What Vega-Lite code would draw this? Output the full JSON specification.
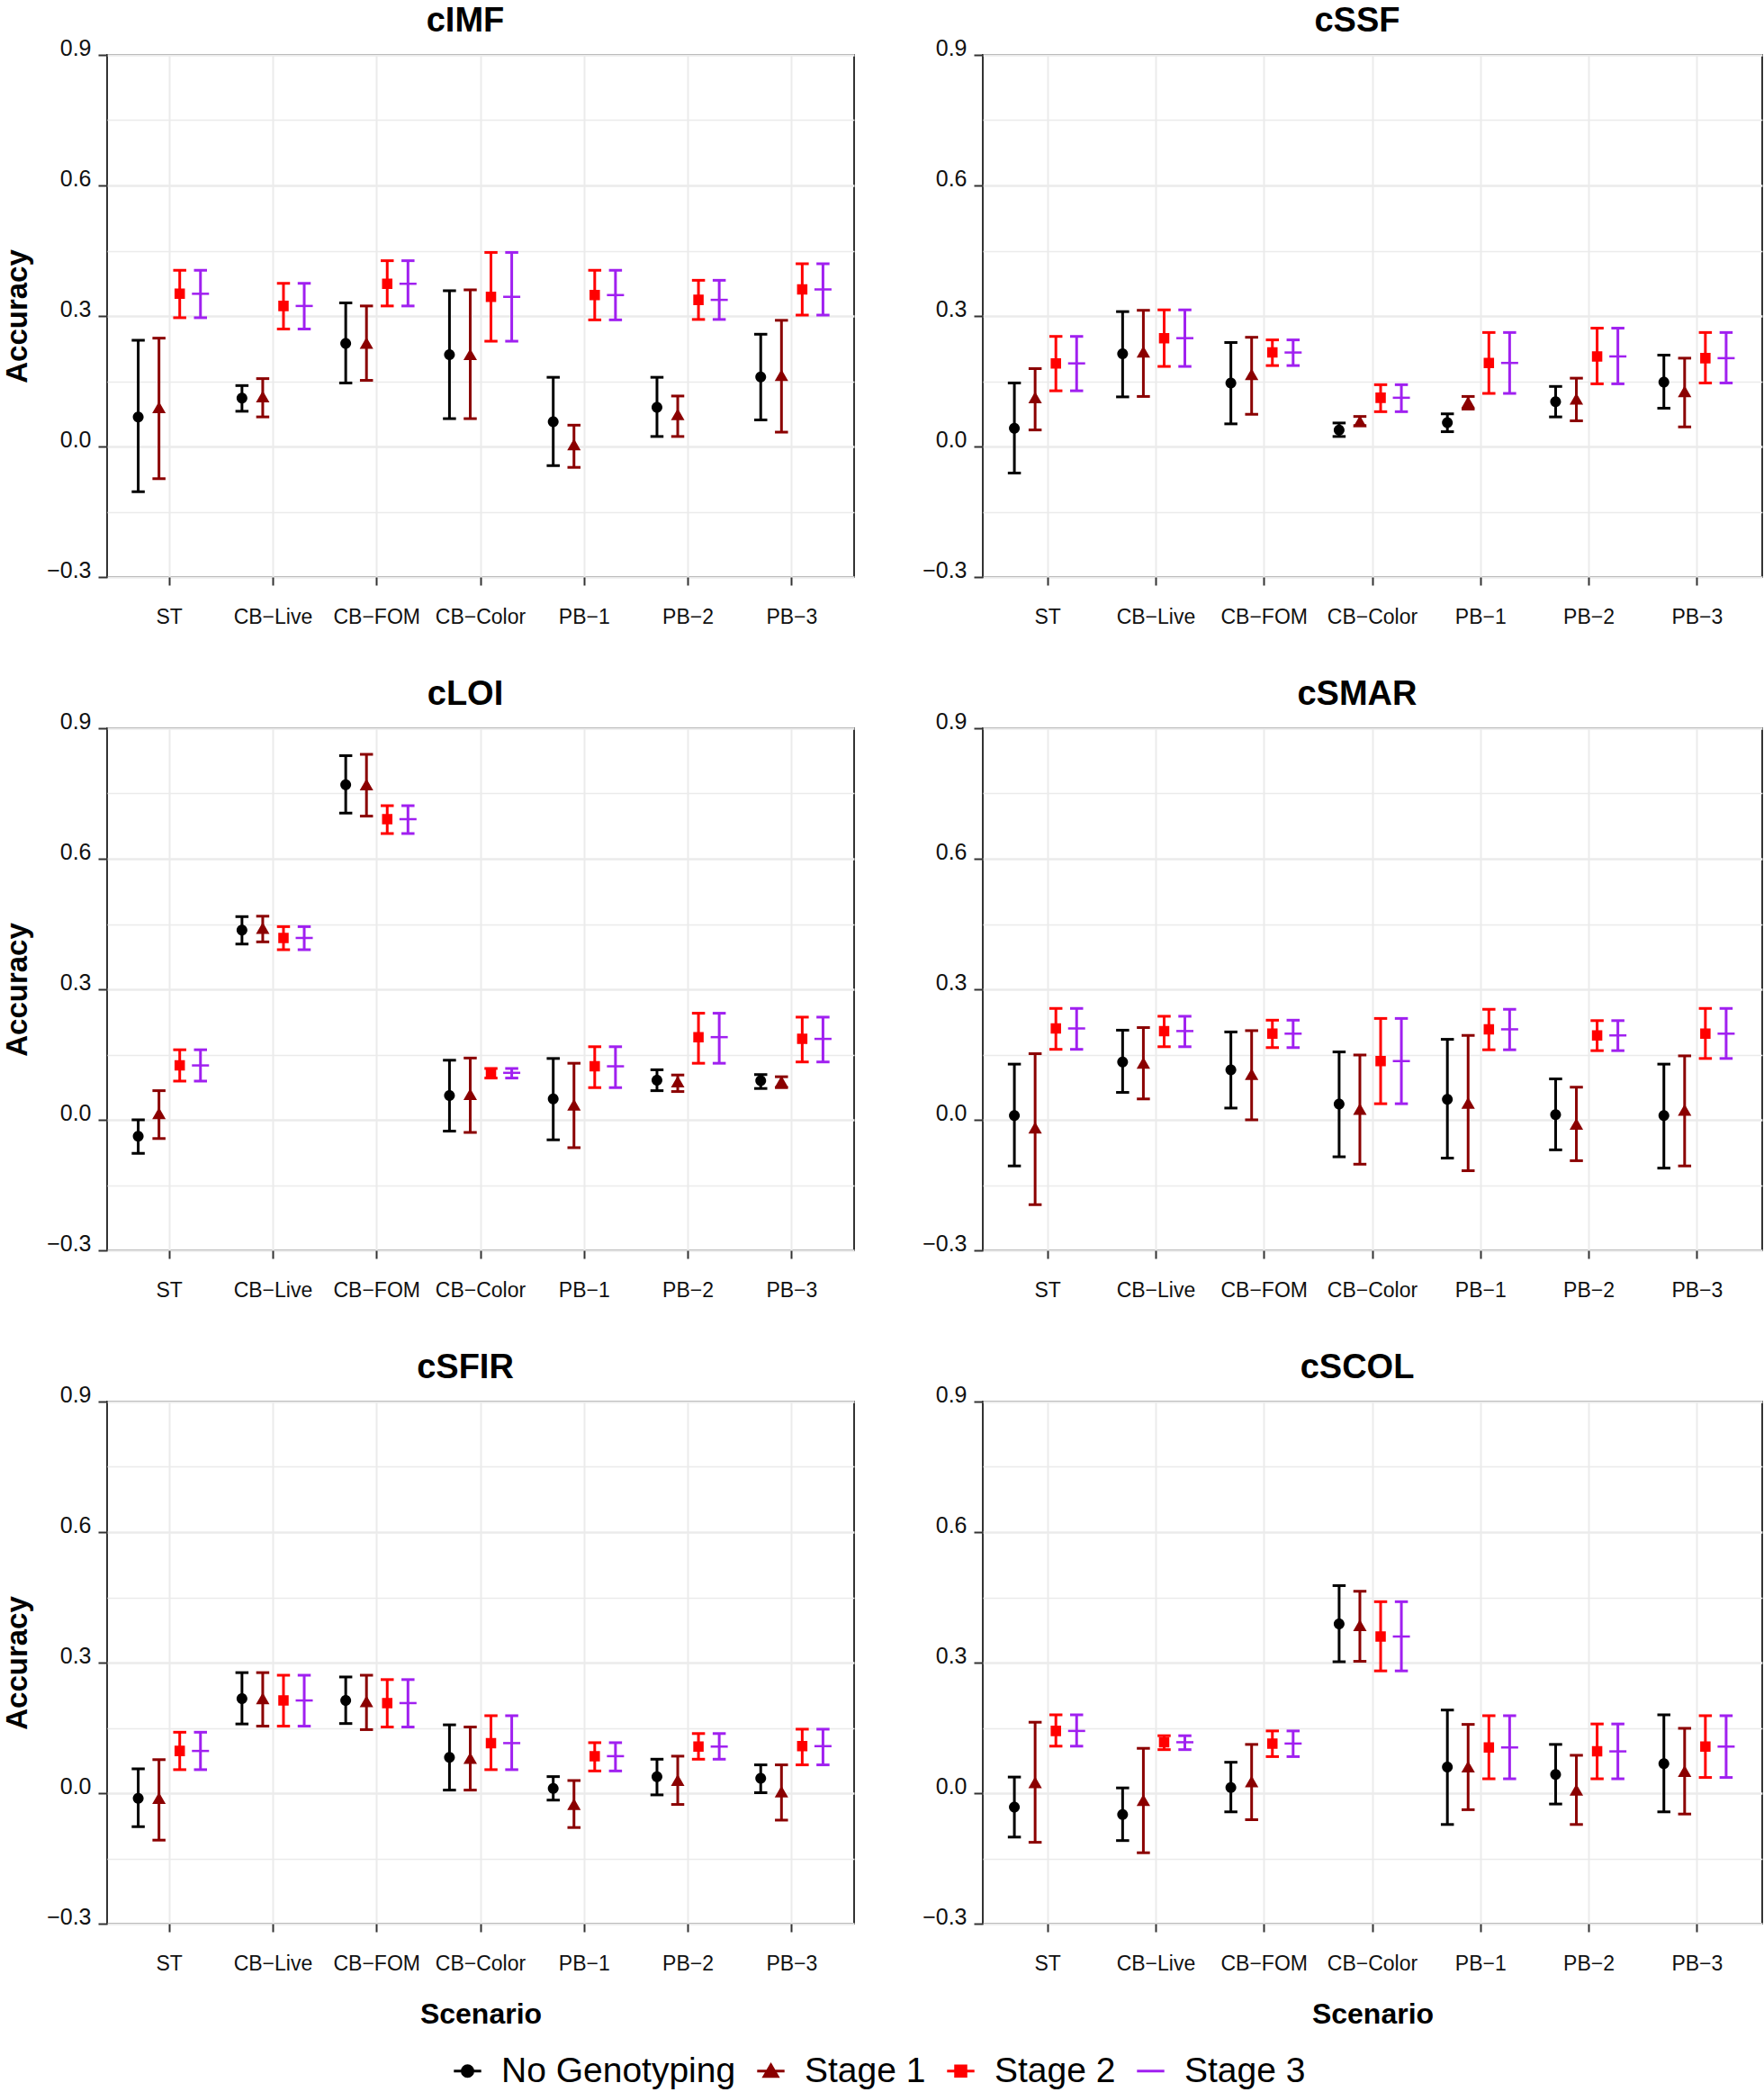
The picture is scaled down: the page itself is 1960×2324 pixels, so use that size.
{
  "$schema": "https://vega.github.io/schema/vega-lite/v6.json",
  "background": "white",
  "padding": {"left": 2, "top": 4, "right": 0, "bottom": 0},
  "columns": 2,
  "align": "each",
  "bounds": "flush",
  "spacing": {"row": 168, "column": 143},
  "resolve": {"scale": {"color": "shared", "shape": "shared"}, "legend": {"color": "shared", "shape": "shared"}},
  "config": {
    "font": "Liberation Sans",
    "view": {"stroke": "#333333", "strokeWidth": 2},
    "axis": {"labelFont": "Liberation Sans", "labelColor": "#111111", "tickColor": "#333333", "tickWidth": 2, "domain": false, "gridColor": "#EBEBEB", "titleFont": "Liberation Sans", "titleFontWeight": "bold", "titleColor": "#000000"},
    "axisX": {"labelFontSize": 23, "titleFontSize": 32},
    "axisY": {"labelFontSize": 25, "titleFontSize": 33},
    "title": {"font": "Liberation Sans", "fontSize": 38, "fontWeight": "bold", "offset": -2, "frame": "group", "anchor": "middle", "color": "#000000"},
    "legend": {"labelFont": "Liberation Sans"}
  },
  "data": {"values": [
    {"t":"cIMF","s":"ST","g":"No Genotyping","m":0.068,"lo":-0.104,"hi":0.244},
    {"t":"cIMF","s":"ST","g":"Stage 1","m":0.089,"lo":-0.074,"hi":0.249},
    {"t":"cIMF","s":"ST","g":"Stage 2","m":0.351,"lo":0.296,"hi":0.405},
    {"t":"cIMF","s":"ST","g":"Stage 3","m":0.351,"lo":0.296,"hi":0.405},
    {"t":"cIMF","s":"CB−Live","g":"No Genotyping","m":0.111,"lo":0.081,"hi":0.140},
    {"t":"cIMF","s":"CB−Live","g":"Stage 1","m":0.114,"lo":0.068,"hi":0.156},
    {"t":"cIMF","s":"CB−Live","g":"Stage 2","m":0.323,"lo":0.270,"hi":0.375},
    {"t":"cIMF","s":"CB−Live","g":"Stage 3","m":0.323,"lo":0.270,"hi":0.375},
    {"t":"cIMF","s":"CB−FOM","g":"No Genotyping","m":0.237,"lo":0.146,"hi":0.330},
    {"t":"cIMF","s":"CB−FOM","g":"Stage 1","m":0.237,"lo":0.152,"hi":0.323},
    {"t":"cIMF","s":"CB−FOM","g":"Stage 2","m":0.374,"lo":0.323,"hi":0.427},
    {"t":"cIMF","s":"CB−FOM","g":"Stage 3","m":0.374,"lo":0.323,"hi":0.427},
    {"t":"cIMF","s":"CB−Color","g":"No Genotyping","m":0.211,"lo":0.064,"hi":0.358},
    {"t":"cIMF","s":"CB−Color","g":"Stage 1","m":0.211,"lo":0.064,"hi":0.360},
    {"t":"cIMF","s":"CB−Color","g":"Stage 2","m":0.344,"lo":0.242,"hi":0.446},
    {"t":"cIMF","s":"CB−Color","g":"Stage 3","m":0.344,"lo":0.242,"hi":0.446},
    {"t":"cIMF","s":"PB−1","g":"No Genotyping","m":0.057,"lo":-0.044,"hi":0.159},
    {"t":"cIMF","s":"PB−1","g":"Stage 1","m":0.004,"lo":-0.048,"hi":0.049},
    {"t":"cIMF","s":"PB−1","g":"Stage 2","m":0.348,"lo":0.291,"hi":0.405},
    {"t":"cIMF","s":"PB−1","g":"Stage 3","m":0.348,"lo":0.291,"hi":0.405},
    {"t":"cIMF","s":"PB−2","g":"No Genotyping","m":0.090,"lo":0.023,"hi":0.159},
    {"t":"cIMF","s":"PB−2","g":"Stage 1","m":0.073,"lo":0.023,"hi":0.116},
    {"t":"cIMF","s":"PB−2","g":"Stage 2","m":0.337,"lo":0.292,"hi":0.382},
    {"t":"cIMF","s":"PB−2","g":"Stage 3","m":0.337,"lo":0.292,"hi":0.382},
    {"t":"cIMF","s":"PB−3","g":"No Genotyping","m":0.160,"lo":0.061,"hi":0.258},
    {"t":"cIMF","s":"PB−3","g":"Stage 1","m":0.163,"lo":0.033,"hi":0.290},
    {"t":"cIMF","s":"PB−3","g":"Stage 2","m":0.361,"lo":0.302,"hi":0.420},
    {"t":"cIMF","s":"PB−3","g":"Stage 3","m":0.361,"lo":0.302,"hi":0.420},

    {"t":"cSSF","s":"ST","g":"No Genotyping","m":0.042,"lo":-0.061,"hi":0.146},
    {"t":"cSSF","s":"ST","g":"Stage 1","m":0.112,"lo":0.038,"hi":0.179},
    {"t":"cSSF","s":"ST","g":"Stage 2","m":0.191,"lo":0.128,"hi":0.253},
    {"t":"cSSF","s":"ST","g":"Stage 3","m":0.191,"lo":0.128,"hi":0.253},
    {"t":"cSSF","s":"CB−Live","g":"No Genotyping","m":0.213,"lo":0.114,"hi":0.310},
    {"t":"cSSF","s":"CB−Live","g":"Stage 1","m":0.217,"lo":0.115,"hi":0.313},
    {"t":"cSSF","s":"CB−Live","g":"Stage 2","m":0.249,"lo":0.184,"hi":0.314},
    {"t":"cSSF","s":"CB−Live","g":"Stage 3","m":0.249,"lo":0.184,"hi":0.314},
    {"t":"cSSF","s":"CB−FOM","g":"No Genotyping","m":0.146,"lo":0.052,"hi":0.239},
    {"t":"cSSF","s":"CB−FOM","g":"Stage 1","m":0.165,"lo":0.074,"hi":0.251},
    {"t":"cSSF","s":"CB−FOM","g":"Stage 2","m":0.216,"lo":0.186,"hi":0.245},
    {"t":"cSSF","s":"CB−FOM","g":"Stage 3","m":0.216,"lo":0.186,"hi":0.245},
    {"t":"cSSF","s":"CB−Color","g":"No Genotyping","m":0.038,"lo":0.023,"hi":0.054},
    {"t":"cSSF","s":"CB−Color","g":"Stage 1","m":0.057,"lo":0.048,"hi":0.069},
    {"t":"cSSF","s":"CB−Color","g":"Stage 2","m":0.112,"lo":0.080,"hi":0.142},
    {"t":"cSSF","s":"CB−Color","g":"Stage 3","m":0.112,"lo":0.080,"hi":0.142},
    {"t":"cSSF","s":"PB−1","g":"No Genotyping","m":0.055,"lo":0.034,"hi":0.075},
    {"t":"cSSF","s":"PB−1","g":"Stage 1","m":0.101,"lo":0.086,"hi":0.115},
    {"t":"cSSF","s":"PB−1","g":"Stage 2","m":0.192,"lo":0.122,"hi":0.262},
    {"t":"cSSF","s":"PB−1","g":"Stage 3","m":0.192,"lo":0.122,"hi":0.262},
    {"t":"cSSF","s":"PB−2","g":"No Genotyping","m":0.103,"lo":0.068,"hi":0.138},
    {"t":"cSSF","s":"PB−2","g":"Stage 1","m":0.109,"lo":0.059,"hi":0.157},
    {"t":"cSSF","s":"PB−2","g":"Stage 2","m":0.207,"lo":0.144,"hi":0.272},
    {"t":"cSSF","s":"PB−2","g":"Stage 3","m":0.207,"lo":0.144,"hi":0.272},
    {"t":"cSSF","s":"PB−3","g":"No Genotyping","m":0.148,"lo":0.088,"hi":0.210},
    {"t":"cSSF","s":"PB−3","g":"Stage 1","m":0.126,"lo":0.045,"hi":0.203},
    {"t":"cSSF","s":"PB−3","g":"Stage 2","m":0.203,"lo":0.146,"hi":0.262},
    {"t":"cSSF","s":"PB−3","g":"Stage 3","m":0.203,"lo":0.146,"hi":0.262},

    {"t":"cLOI","s":"ST","g":"No Genotyping","m":-0.038,"lo":-0.077,"hi":0.000},
    {"t":"cLOI","s":"ST","g":"Stage 1","m":0.014,"lo":-0.043,"hi":0.067},
    {"t":"cLOI","s":"ST","g":"Stage 2","m":0.125,"lo":0.089,"hi":0.161},
    {"t":"cLOI","s":"ST","g":"Stage 3","m":0.125,"lo":0.089,"hi":0.161},
    {"t":"cLOI","s":"CB−Live","g":"No Genotyping","m":0.436,"lo":0.404,"hi":0.467},
    {"t":"cLOI","s":"CB−Live","g":"Stage 1","m":0.440,"lo":0.409,"hi":0.468},
    {"t":"cLOI","s":"CB−Live","g":"Stage 2","m":0.418,"lo":0.391,"hi":0.444},
    {"t":"cLOI","s":"CB−Live","g":"Stage 3","m":0.418,"lo":0.391,"hi":0.444},
    {"t":"cLOI","s":"CB−FOM","g":"No Genotyping","m":0.770,"lo":0.705,"hi":0.837},
    {"t":"cLOI","s":"CB−FOM","g":"Stage 1","m":0.770,"lo":0.698,"hi":0.840},
    {"t":"cLOI","s":"CB−FOM","g":"Stage 2","m":0.691,"lo":0.658,"hi":0.722},
    {"t":"cLOI","s":"CB−FOM","g":"Stage 3","m":0.691,"lo":0.658,"hi":0.722},
    {"t":"cLOI","s":"CB−Color","g":"No Genotyping","m":0.056,"lo":-0.026,"hi":0.137},
    {"t":"cLOI","s":"CB−Color","g":"Stage 1","m":0.058,"lo":-0.029,"hi":0.142},
    {"t":"cLOI","s":"CB−Color","g":"Stage 2","m":0.108,"lo":0.096,"hi":0.118},
    {"t":"cLOI","s":"CB−Color","g":"Stage 3","m":0.108,"lo":0.096,"hi":0.118},
    {"t":"cLOI","s":"PB−1","g":"No Genotyping","m":0.048,"lo":-0.046,"hi":0.141},
    {"t":"cLOI","s":"PB−1","g":"Stage 1","m":0.034,"lo":-0.064,"hi":0.130},
    {"t":"cLOI","s":"PB−1","g":"Stage 2","m":0.123,"lo":0.074,"hi":0.168},
    {"t":"cLOI","s":"PB−1","g":"Stage 3","m":0.123,"lo":0.074,"hi":0.168},
    {"t":"cLOI","s":"PB−2","g":"No Genotyping","m":0.091,"lo":0.067,"hi":0.115},
    {"t":"cLOI","s":"PB−2","g":"Stage 1","m":0.087,"lo":0.065,"hi":0.103},
    {"t":"cLOI","s":"PB−2","g":"Stage 2","m":0.190,"lo":0.130,"hi":0.245},
    {"t":"cLOI","s":"PB−2","g":"Stage 3","m":0.190,"lo":0.130,"hi":0.245},
    {"t":"cLOI","s":"PB−3","g":"No Genotyping","m":0.090,"lo":0.072,"hi":0.104},
    {"t":"cLOI","s":"PB−3","g":"Stage 1","m":0.087,"lo":0.074,"hi":0.099},
    {"t":"cLOI","s":"PB−3","g":"Stage 2","m":0.186,"lo":0.133,"hi":0.236},
    {"t":"cLOI","s":"PB−3","g":"Stage 3","m":0.186,"lo":0.133,"hi":0.236},

    {"t":"cSMAR","s":"ST","g":"No Genotyping","m":0.010,"lo":-0.106,"hi":0.128},
    {"t":"cSMAR","s":"ST","g":"Stage 1","m":-0.019,"lo":-0.195,"hi":0.152},
    {"t":"cSMAR","s":"ST","g":"Stage 2","m":0.210,"lo":0.162,"hi":0.256},
    {"t":"cSMAR","s":"ST","g":"Stage 3","m":0.210,"lo":0.162,"hi":0.256},
    {"t":"cSMAR","s":"CB−Live","g":"No Genotyping","m":0.133,"lo":0.063,"hi":0.206},
    {"t":"cSMAR","s":"CB−Live","g":"Stage 1","m":0.130,"lo":0.048,"hi":0.212},
    {"t":"cSMAR","s":"CB−Live","g":"Stage 2","m":0.204,"lo":0.168,"hi":0.238},
    {"t":"cSMAR","s":"CB−Live","g":"Stage 3","m":0.204,"lo":0.168,"hi":0.238},
    {"t":"cSMAR","s":"CB−FOM","g":"No Genotyping","m":0.115,"lo":0.027,"hi":0.202},
    {"t":"cSMAR","s":"CB−FOM","g":"Stage 1","m":0.104,"lo":0.000,"hi":0.205},
    {"t":"cSMAR","s":"CB−FOM","g":"Stage 2","m":0.198,"lo":0.166,"hi":0.229},
    {"t":"cSMAR","s":"CB−FOM","g":"Stage 3","m":0.198,"lo":0.166,"hi":0.229},
    {"t":"cSMAR","s":"CB−Color","g":"No Genotyping","m":0.036,"lo":-0.085,"hi":0.156},
    {"t":"cSMAR","s":"CB−Color","g":"Stage 1","m":0.024,"lo":-0.102,"hi":0.149},
    {"t":"cSMAR","s":"CB−Color","g":"Stage 2","m":0.135,"lo":0.037,"hi":0.233},
    {"t":"cSMAR","s":"CB−Color","g":"Stage 3","m":0.135,"lo":0.037,"hi":0.233},
    {"t":"cSMAR","s":"PB−1","g":"No Genotyping","m":0.047,"lo":-0.088,"hi":0.185},
    {"t":"cSMAR","s":"PB−1","g":"Stage 1","m":0.038,"lo":-0.117,"hi":0.194},
    {"t":"cSMAR","s":"PB−1","g":"Stage 2","m":0.208,"lo":0.161,"hi":0.254},
    {"t":"cSMAR","s":"PB−1","g":"Stage 3","m":0.208,"lo":0.161,"hi":0.254},
    {"t":"cSMAR","s":"PB−2","g":"No Genotyping","m":0.012,"lo":-0.069,"hi":0.094},
    {"t":"cSMAR","s":"PB−2","g":"Stage 1","m":-0.010,"lo":-0.094,"hi":0.075},
    {"t":"cSMAR","s":"PB−2","g":"Stage 2","m":0.194,"lo":0.159,"hi":0.228},
    {"t":"cSMAR","s":"PB−2","g":"Stage 3","m":0.194,"lo":0.159,"hi":0.228},
    {"t":"cSMAR","s":"PB−3","g":"No Genotyping","m":0.010,"lo":-0.111,"hi":0.128},
    {"t":"cSMAR","s":"PB−3","g":"Stage 1","m":0.022,"lo":-0.106,"hi":0.147},
    {"t":"cSMAR","s":"PB−3","g":"Stage 2","m":0.198,"lo":0.141,"hi":0.256},
    {"t":"cSMAR","s":"PB−3","g":"Stage 3","m":0.198,"lo":0.141,"hi":0.256},

    {"t":"cSFIR","s":"ST","g":"No Genotyping","m":-0.012,"lo":-0.077,"hi":0.056},
    {"t":"cSFIR","s":"ST","g":"Stage 1","m":-0.012,"lo":-0.108,"hi":0.077},
    {"t":"cSFIR","s":"ST","g":"Stage 2","m":0.097,"lo":0.054,"hi":0.140},
    {"t":"cSFIR","s":"ST","g":"Stage 3","m":0.097,"lo":0.054,"hi":0.140},
    {"t":"cSFIR","s":"CB−Live","g":"No Genotyping","m":0.217,"lo":0.159,"hi":0.277},
    {"t":"cSFIR","s":"CB−Live","g":"Stage 1","m":0.217,"lo":0.154,"hi":0.277},
    {"t":"cSFIR","s":"CB−Live","g":"Stage 2","m":0.213,"lo":0.154,"hi":0.271},
    {"t":"cSFIR","s":"CB−Live","g":"Stage 3","m":0.213,"lo":0.154,"hi":0.271},
    {"t":"cSFIR","s":"CB−FOM","g":"No Genotyping","m":0.213,"lo":0.160,"hi":0.267},
    {"t":"cSFIR","s":"CB−FOM","g":"Stage 1","m":0.210,"lo":0.146,"hi":0.271},
    {"t":"cSFIR","s":"CB−FOM","g":"Stage 2","m":0.207,"lo":0.152,"hi":0.261},
    {"t":"cSFIR","s":"CB−FOM","g":"Stage 3","m":0.207,"lo":0.152,"hi":0.261},
    {"t":"cSFIR","s":"CB−Color","g":"No Genotyping","m":0.082,"lo":0.007,"hi":0.157},
    {"t":"cSFIR","s":"CB−Color","g":"Stage 1","m":0.080,"lo":0.007,"hi":0.152},
    {"t":"cSFIR","s":"CB−Color","g":"Stage 2","m":0.115,"lo":0.054,"hi":0.178},
    {"t":"cSFIR","s":"CB−Color","g":"Stage 3","m":0.115,"lo":0.054,"hi":0.178},
    {"t":"cSFIR","s":"PB−1","g":"No Genotyping","m":0.011,"lo":-0.016,"hi":0.038},
    {"t":"cSFIR","s":"PB−1","g":"Stage 1","m":-0.026,"lo":-0.079,"hi":0.029},
    {"t":"cSFIR","s":"PB−1","g":"Stage 2","m":0.085,"lo":0.051,"hi":0.116},
    {"t":"cSFIR","s":"PB−1","g":"Stage 3","m":0.085,"lo":0.051,"hi":0.116},
    {"t":"cSFIR","s":"PB−2","g":"No Genotyping","m":0.038,"lo":-0.004,"hi":0.078},
    {"t":"cSFIR","s":"PB−2","g":"Stage 1","m":0.029,"lo":-0.026,"hi":0.085},
    {"t":"cSFIR","s":"PB−2","g":"Stage 2","m":0.107,"lo":0.078,"hi":0.137},
    {"t":"cSFIR","s":"PB−2","g":"Stage 3","m":0.107,"lo":0.078,"hi":0.137},
    {"t":"cSFIR","s":"PB−3","g":"No Genotyping","m":0.034,"lo":0.001,"hi":0.065},
    {"t":"cSFIR","s":"PB−3","g":"Stage 1","m":0.003,"lo":-0.062,"hi":0.065},
    {"t":"cSFIR","s":"PB−3","g":"Stage 2","m":0.108,"lo":0.065,"hi":0.147},
    {"t":"cSFIR","s":"PB−3","g":"Stage 3","m":0.108,"lo":0.065,"hi":0.147},

    {"t":"cSCOL","s":"ST","g":"No Genotyping","m":-0.032,"lo":-0.101,"hi":0.037},
    {"t":"cSCOL","s":"ST","g":"Stage 1","m":0.024,"lo":-0.113,"hi":0.163},
    {"t":"cSCOL","s":"ST","g":"Stage 2","m":0.143,"lo":0.108,"hi":0.180},
    {"t":"cSCOL","s":"ST","g":"Stage 3","m":0.143,"lo":0.108,"hi":0.180},
    {"t":"cSCOL","s":"CB−Live","g":"No Genotyping","m":-0.049,"lo":-0.109,"hi":0.012},
    {"t":"cSCOL","s":"CB−Live","g":"Stage 1","m":-0.017,"lo":-0.137,"hi":0.103},
    {"t":"cSCOL","s":"CB−Live","g":"Stage 2","m":0.117,"lo":0.100,"hi":0.132},
    {"t":"cSCOL","s":"CB−Live","g":"Stage 3","m":0.117,"lo":0.100,"hi":0.132},
    {"t":"cSCOL","s":"CB−FOM","g":"No Genotyping","m":0.013,"lo":-0.043,"hi":0.071},
    {"t":"cSCOL","s":"CB−FOM","g":"Stage 1","m":0.026,"lo":-0.061,"hi":0.112},
    {"t":"cSCOL","s":"CB−FOM","g":"Stage 2","m":0.114,"lo":0.084,"hi":0.143},
    {"t":"cSCOL","s":"CB−FOM","g":"Stage 3","m":0.114,"lo":0.084,"hi":0.143},
    {"t":"cSCOL","s":"CB−Color","g":"No Genotyping","m":0.389,"lo":0.302,"hi":0.477},
    {"t":"cSCOL","s":"CB−Color","g":"Stage 1","m":0.385,"lo":0.303,"hi":0.464},
    {"t":"cSCOL","s":"CB−Color","g":"Stage 2","m":0.360,"lo":0.281,"hi":0.440},
    {"t":"cSCOL","s":"CB−Color","g":"Stage 3","m":0.360,"lo":0.281,"hi":0.440},
    {"t":"cSCOL","s":"PB−1","g":"No Genotyping","m":0.060,"lo":-0.072,"hi":0.191},
    {"t":"cSCOL","s":"PB−1","g":"Stage 1","m":0.060,"lo":-0.038,"hi":0.158},
    {"t":"cSCOL","s":"PB−1","g":"Stage 2","m":0.105,"lo":0.033,"hi":0.178},
    {"t":"cSCOL","s":"PB−1","g":"Stage 3","m":0.105,"lo":0.033,"hi":0.178},
    {"t":"cSCOL","s":"PB−2","g":"No Genotyping","m":0.043,"lo":-0.025,"hi":0.112},
    {"t":"cSCOL","s":"PB−2","g":"Stage 1","m":0.007,"lo":-0.072,"hi":0.087},
    {"t":"cSCOL","s":"PB−2","g":"Stage 2","m":0.096,"lo":0.033,"hi":0.159},
    {"t":"cSCOL","s":"PB−2","g":"Stage 3","m":0.096,"lo":0.033,"hi":0.159},
    {"t":"cSCOL","s":"PB−3","g":"No Genotyping","m":0.068,"lo":-0.043,"hi":0.180},
    {"t":"cSCOL","s":"PB−3","g":"Stage 1","m":0.050,"lo":-0.048,"hi":0.149},
    {"t":"cSCOL","s":"PB−3","g":"Stage 2","m":0.107,"lo":0.036,"hi":0.178},
    {"t":"cSCOL","s":"PB−3","g":"Stage 3","m":0.107,"lo":0.036,"hi":0.178}
  ]},
  "concat": [
    {
      "width": 830, "height": 580,
      "title": {"text": "cIMF", "dx": -17},
      "transform": [{"filter": "datum.t == 'cIMF'"}],
      "encoding": {
        "x": {"field": "s", "type": "nominal", "sort": ["ST","CB−Live","CB−FOM","CB−Color","PB−1","PB−2","PB−3"], "scale": {"paddingInner": 0, "paddingOuter": 0.1}, "axis": {"title": null, "labelAngle": 0, "tickSize": 9, "labelPadding": 24, "bandPosition": 0.5, "grid": true, "gridWidth": 2}},
        "xOffset": {"field": "g", "type": "nominal", "sort": ["No Genotyping","Stage 1","Stage 2","Stage 3"], "scale": {"paddingInner": 0, "paddingOuter": 0.5}},
        "color": {"field": "g", "type": "nominal", "scale": {"domain": ["No Genotyping","Stage 1","Stage 2","Stage 3"], "range": ["#000000","#8B0000","#FF0000","#A020F0"]}, "legend": {"orient": "none", "legendX": 381, "legendY": 2220, "direction": "horizontal", "title": null, "labelFontSize": 39, "labelColor": "#000000", "labelLimit": 600, "symbolSize": 1024, "labelOffset": 18, "columnPadding": 17, "symbolStrokeWidth": 3, "symbolOpacity": 1, "encode": {"symbols": {"update": {"stroke": {"scale": "color", "field": "value"}, "strokeWidth": {"value": 3}}}}}}
      },
      "layer": [
        {"mark": {"type": "rule", "strokeWidth": 3}, "encoding": {"y": {"field": "lo", "type": "quantitative", "scale": {"domain": [-0.3, 0.9], "nice": false, "zero": false}, "axis": {"title": "Accuracy", "titlePadding": 15, "values": [-0.3,-0.15,0,0.15,0.3,0.45,0.6,0.75,0.9], "format": ".1f", "labelBaseline": "alphabetic", "tickSize": 10, "labelPadding": 8, "labelExpr": "abs(round(datum.value*100))%30==0 ? datum.label : ''", "tickOpacity": {"condition": {"test": "abs(round(datum.value*100))%30==0", "value": 1}, "value": 0}, "gridWidth": {"condition": {"test": "abs(round(datum.value*100))%30==0", "value": 2.4}, "value": 1.4}}}, "y2": {"field": "hi"}}},
        {"mark": {"type": "tick", "size": 14.5, "thickness": 3, "opacity": 1}, "encoding": {"y": {"field": "lo", "type": "quantitative"}}},
        {"mark": {"type": "tick", "size": 14.5, "thickness": 3, "opacity": 1}, "encoding": {"y": {"field": "hi", "type": "quantitative"}}},
        {"transform": [{"filter": "datum.g != 'Stage 3'"}], "mark": {"type": "point", "filled": true, "opacity": 1, "size": 1024}, "encoding": {"y": {"field": "m", "type": "quantitative"}, "shape": {"field": "g", "type": "nominal", "scale": {"domain": ["No Genotyping","Stage 1","Stage 2","Stage 3"], "range": ["M-0.95,0L0.95,0M-0.375,0A0.375,0.375,0,1,1,0.375,0A0.375,0.375,0,1,1,-0.375,0Z","M-0.95,0L0.95,0M0,-0.43L0.47,0.38L-0.47,0.38Z","M-0.95,0L0.95,0M-0.36,-0.36L0.36,-0.36L0.36,0.36L-0.36,0.36Z","M-0.95,0L0.95,0"]}, "legend": {"orient": "none", "legendX": 381, "legendY": 2220, "direction": "horizontal", "title": null, "labelFontSize": 39, "labelColor": "#000000", "labelLimit": 600, "symbolSize": 1024, "labelOffset": 18, "columnPadding": 17, "symbolStrokeWidth": 3, "symbolOpacity": 1, "encode": {"symbols": {"update": {"stroke": {"scale": "color", "field": "value"}, "strokeWidth": {"value": 3}}}}}}}},
        {"transform": [{"filter": "datum.g == 'Stage 3'"}], "mark": {"type": "tick", "size": 19, "thickness": 2.5, "opacity": 1}, "encoding": {"y": {"field": "m", "type": "quantitative"}}}
      ]
    },
    {
      "width": 866, "height": 580,
      "title": {"text": "cSSF", "dx": -17},
      "transform": [{"filter": "datum.t == 'cSSF'"}],
      "encoding": {
        "x": {"field": "s", "type": "nominal", "sort": ["ST","CB−Live","CB−FOM","CB−Color","PB−1","PB−2","PB−3"], "scale": {"paddingInner": 0, "paddingOuter": 0.1}, "axis": {"title": null, "labelAngle": 0, "tickSize": 9, "labelPadding": 24, "bandPosition": 0.5, "grid": true, "gridWidth": 2}},
        "xOffset": {"field": "g", "type": "nominal", "sort": ["No Genotyping","Stage 1","Stage 2","Stage 3"], "scale": {"paddingInner": 0, "paddingOuter": 0.5}},
        "color": {"field": "g", "type": "nominal", "scale": {"domain": ["No Genotyping","Stage 1","Stage 2","Stage 3"], "range": ["#000000","#8B0000","#FF0000","#A020F0"]}}
      },
      "layer": [
        {"mark": {"type": "rule", "strokeWidth": 3}, "encoding": {"y": {"field": "lo", "type": "quantitative", "scale": {"domain": [-0.3, 0.9], "nice": false, "zero": false}, "axis": {"title": null, "values": [-0.3,-0.15,0,0.15,0.3,0.45,0.6,0.75,0.9], "format": ".1f", "labelBaseline": "alphabetic", "tickSize": 10, "labelPadding": 8, "labelExpr": "abs(round(datum.value*100))%30==0 ? datum.label : ''", "tickOpacity": {"condition": {"test": "abs(round(datum.value*100))%30==0", "value": 1}, "value": 0}, "gridWidth": {"condition": {"test": "abs(round(datum.value*100))%30==0", "value": 2.4}, "value": 1.4}}}, "y2": {"field": "hi"}}},
        {"mark": {"type": "tick", "size": 14.5, "thickness": 3, "opacity": 1}, "encoding": {"y": {"field": "lo", "type": "quantitative"}}},
        {"mark": {"type": "tick", "size": 14.5, "thickness": 3, "opacity": 1}, "encoding": {"y": {"field": "hi", "type": "quantitative"}}},
        {"transform": [{"filter": "datum.g != 'Stage 3'"}], "mark": {"type": "point", "filled": true, "opacity": 1, "size": 1024}, "encoding": {"y": {"field": "m", "type": "quantitative"}, "shape": {"field": "g", "type": "nominal", "scale": {"domain": ["No Genotyping","Stage 1","Stage 2","Stage 3"], "range": ["M-0.95,0L0.95,0M-0.375,0A0.375,0.375,0,1,1,0.375,0A0.375,0.375,0,1,1,-0.375,0Z","M-0.95,0L0.95,0M0,-0.43L0.47,0.38L-0.47,0.38Z","M-0.95,0L0.95,0M-0.36,-0.36L0.36,-0.36L0.36,0.36L-0.36,0.36Z","M-0.95,0L0.95,0"]}}}},
        {"transform": [{"filter": "datum.g == 'Stage 3'"}], "mark": {"type": "tick", "size": 19, "thickness": 2.5, "opacity": 1}, "encoding": {"y": {"field": "m", "type": "quantitative"}}}
      ]
    },
    {
      "width": 830, "height": 580,
      "title": {"text": "cLOI", "dx": -17},
      "transform": [{"filter": "datum.t == 'cLOI'"}],
      "encoding": {
        "x": {"field": "s", "type": "nominal", "sort": ["ST","CB−Live","CB−FOM","CB−Color","PB−1","PB−2","PB−3"], "scale": {"paddingInner": 0, "paddingOuter": 0.1}, "axis": {"title": null, "labelAngle": 0, "tickSize": 9, "labelPadding": 24, "bandPosition": 0.5, "grid": true, "gridWidth": 2}},
        "xOffset": {"field": "g", "type": "nominal", "sort": ["No Genotyping","Stage 1","Stage 2","Stage 3"], "scale": {"paddingInner": 0, "paddingOuter": 0.5}},
        "color": {"field": "g", "type": "nominal", "scale": {"domain": ["No Genotyping","Stage 1","Stage 2","Stage 3"], "range": ["#000000","#8B0000","#FF0000","#A020F0"]}}
      },
      "layer": [
        {"mark": {"type": "rule", "strokeWidth": 3}, "encoding": {"y": {"field": "lo", "type": "quantitative", "scale": {"domain": [-0.3, 0.9], "nice": false, "zero": false}, "axis": {"title": "Accuracy", "titlePadding": 15, "values": [-0.3,-0.15,0,0.15,0.3,0.45,0.6,0.75,0.9], "format": ".1f", "labelBaseline": "alphabetic", "tickSize": 10, "labelPadding": 8, "labelExpr": "abs(round(datum.value*100))%30==0 ? datum.label : ''", "tickOpacity": {"condition": {"test": "abs(round(datum.value*100))%30==0", "value": 1}, "value": 0}, "gridWidth": {"condition": {"test": "abs(round(datum.value*100))%30==0", "value": 2.4}, "value": 1.4}}}, "y2": {"field": "hi"}}},
        {"mark": {"type": "tick", "size": 14.5, "thickness": 3, "opacity": 1}, "encoding": {"y": {"field": "lo", "type": "quantitative"}}},
        {"mark": {"type": "tick", "size": 14.5, "thickness": 3, "opacity": 1}, "encoding": {"y": {"field": "hi", "type": "quantitative"}}},
        {"transform": [{"filter": "datum.g != 'Stage 3'"}], "mark": {"type": "point", "filled": true, "opacity": 1, "size": 1024}, "encoding": {"y": {"field": "m", "type": "quantitative"}, "shape": {"field": "g", "type": "nominal", "scale": {"domain": ["No Genotyping","Stage 1","Stage 2","Stage 3"], "range": ["M-0.95,0L0.95,0M-0.375,0A0.375,0.375,0,1,1,0.375,0A0.375,0.375,0,1,1,-0.375,0Z","M-0.95,0L0.95,0M0,-0.43L0.47,0.38L-0.47,0.38Z","M-0.95,0L0.95,0M-0.36,-0.36L0.36,-0.36L0.36,0.36L-0.36,0.36Z","M-0.95,0L0.95,0"]}}}},
        {"transform": [{"filter": "datum.g == 'Stage 3'"}], "mark": {"type": "tick", "size": 19, "thickness": 2.5, "opacity": 1}, "encoding": {"y": {"field": "m", "type": "quantitative"}}}
      ]
    },
    {
      "width": 866, "height": 580,
      "title": {"text": "cSMAR", "dx": -17},
      "transform": [{"filter": "datum.t == 'cSMAR'"}],
      "encoding": {
        "x": {"field": "s", "type": "nominal", "sort": ["ST","CB−Live","CB−FOM","CB−Color","PB−1","PB−2","PB−3"], "scale": {"paddingInner": 0, "paddingOuter": 0.1}, "axis": {"title": null, "labelAngle": 0, "tickSize": 9, "labelPadding": 24, "bandPosition": 0.5, "grid": true, "gridWidth": 2}},
        "xOffset": {"field": "g", "type": "nominal", "sort": ["No Genotyping","Stage 1","Stage 2","Stage 3"], "scale": {"paddingInner": 0, "paddingOuter": 0.5}},
        "color": {"field": "g", "type": "nominal", "scale": {"domain": ["No Genotyping","Stage 1","Stage 2","Stage 3"], "range": ["#000000","#8B0000","#FF0000","#A020F0"]}}
      },
      "layer": [
        {"mark": {"type": "rule", "strokeWidth": 3}, "encoding": {"y": {"field": "lo", "type": "quantitative", "scale": {"domain": [-0.3, 0.9], "nice": false, "zero": false}, "axis": {"title": null, "values": [-0.3,-0.15,0,0.15,0.3,0.45,0.6,0.75,0.9], "format": ".1f", "labelBaseline": "alphabetic", "tickSize": 10, "labelPadding": 8, "labelExpr": "abs(round(datum.value*100))%30==0 ? datum.label : ''", "tickOpacity": {"condition": {"test": "abs(round(datum.value*100))%30==0", "value": 1}, "value": 0}, "gridWidth": {"condition": {"test": "abs(round(datum.value*100))%30==0", "value": 2.4}, "value": 1.4}}}, "y2": {"field": "hi"}}},
        {"mark": {"type": "tick", "size": 14.5, "thickness": 3, "opacity": 1}, "encoding": {"y": {"field": "lo", "type": "quantitative"}}},
        {"mark": {"type": "tick", "size": 14.5, "thickness": 3, "opacity": 1}, "encoding": {"y": {"field": "hi", "type": "quantitative"}}},
        {"transform": [{"filter": "datum.g != 'Stage 3'"}], "mark": {"type": "point", "filled": true, "opacity": 1, "size": 1024}, "encoding": {"y": {"field": "m", "type": "quantitative"}, "shape": {"field": "g", "type": "nominal", "scale": {"domain": ["No Genotyping","Stage 1","Stage 2","Stage 3"], "range": ["M-0.95,0L0.95,0M-0.375,0A0.375,0.375,0,1,1,0.375,0A0.375,0.375,0,1,1,-0.375,0Z","M-0.95,0L0.95,0M0,-0.43L0.47,0.38L-0.47,0.38Z","M-0.95,0L0.95,0M-0.36,-0.36L0.36,-0.36L0.36,0.36L-0.36,0.36Z","M-0.95,0L0.95,0"]}}}},
        {"transform": [{"filter": "datum.g == 'Stage 3'"}], "mark": {"type": "tick", "size": 19, "thickness": 2.5, "opacity": 1}, "encoding": {"y": {"field": "m", "type": "quantitative"}}}
      ]
    },
    {
      "width": 830, "height": 580,
      "title": {"text": "cSFIR", "dx": -17},
      "transform": [{"filter": "datum.t == 'cSFIR'"}],
      "encoding": {
        "x": {"field": "s", "type": "nominal", "sort": ["ST","CB−Live","CB−FOM","CB−Color","PB−1","PB−2","PB−3"], "scale": {"paddingInner": 0, "paddingOuter": 0.1}, "axis": {"title": "Scenario", "titlePadding": 29, "labelAngle": 0, "tickSize": 9, "labelPadding": 24, "bandPosition": 0.5, "grid": true, "gridWidth": 2}},
        "xOffset": {"field": "g", "type": "nominal", "sort": ["No Genotyping","Stage 1","Stage 2","Stage 3"], "scale": {"paddingInner": 0, "paddingOuter": 0.5}},
        "color": {"field": "g", "type": "nominal", "scale": {"domain": ["No Genotyping","Stage 1","Stage 2","Stage 3"], "range": ["#000000","#8B0000","#FF0000","#A020F0"]}}
      },
      "layer": [
        {"mark": {"type": "rule", "strokeWidth": 3}, "encoding": {"y": {"field": "lo", "type": "quantitative", "scale": {"domain": [-0.3, 0.9], "nice": false, "zero": false}, "axis": {"title": "Accuracy", "titlePadding": 15, "values": [-0.3,-0.15,0,0.15,0.3,0.45,0.6,0.75,0.9], "format": ".1f", "labelBaseline": "alphabetic", "tickSize": 10, "labelPadding": 8, "labelExpr": "abs(round(datum.value*100))%30==0 ? datum.label : ''", "tickOpacity": {"condition": {"test": "abs(round(datum.value*100))%30==0", "value": 1}, "value": 0}, "gridWidth": {"condition": {"test": "abs(round(datum.value*100))%30==0", "value": 2.4}, "value": 1.4}}}, "y2": {"field": "hi"}}},
        {"mark": {"type": "tick", "size": 14.5, "thickness": 3, "opacity": 1}, "encoding": {"y": {"field": "lo", "type": "quantitative"}}},
        {"mark": {"type": "tick", "size": 14.5, "thickness": 3, "opacity": 1}, "encoding": {"y": {"field": "hi", "type": "quantitative"}}},
        {"transform": [{"filter": "datum.g != 'Stage 3'"}], "mark": {"type": "point", "filled": true, "opacity": 1, "size": 1024}, "encoding": {"y": {"field": "m", "type": "quantitative"}, "shape": {"field": "g", "type": "nominal", "scale": {"domain": ["No Genotyping","Stage 1","Stage 2","Stage 3"], "range": ["M-0.95,0L0.95,0M-0.375,0A0.375,0.375,0,1,1,0.375,0A0.375,0.375,0,1,1,-0.375,0Z","M-0.95,0L0.95,0M0,-0.43L0.47,0.38L-0.47,0.38Z","M-0.95,0L0.95,0M-0.36,-0.36L0.36,-0.36L0.36,0.36L-0.36,0.36Z","M-0.95,0L0.95,0"]}}}},
        {"transform": [{"filter": "datum.g == 'Stage 3'"}], "mark": {"type": "tick", "size": 19, "thickness": 2.5, "opacity": 1}, "encoding": {"y": {"field": "m", "type": "quantitative"}}}
      ]
    },
    {
      "width": 866, "height": 580,
      "title": {"text": "cSCOL", "dx": -17},
      "transform": [{"filter": "datum.t == 'cSCOL'"}],
      "encoding": {
        "x": {"field": "s", "type": "nominal", "sort": ["ST","CB−Live","CB−FOM","CB−Color","PB−1","PB−2","PB−3"], "scale": {"paddingInner": 0, "paddingOuter": 0.1}, "axis": {"title": "Scenario", "titlePadding": 29, "labelAngle": 0, "tickSize": 9, "labelPadding": 24, "bandPosition": 0.5, "grid": true, "gridWidth": 2}},
        "xOffset": {"field": "g", "type": "nominal", "sort": ["No Genotyping","Stage 1","Stage 2","Stage 3"], "scale": {"paddingInner": 0, "paddingOuter": 0.5}},
        "color": {"field": "g", "type": "nominal", "scale": {"domain": ["No Genotyping","Stage 1","Stage 2","Stage 3"], "range": ["#000000","#8B0000","#FF0000","#A020F0"]}}
      },
      "layer": [
        {"mark": {"type": "rule", "strokeWidth": 3}, "encoding": {"y": {"field": "lo", "type": "quantitative", "scale": {"domain": [-0.3, 0.9], "nice": false, "zero": false}, "axis": {"title": null, "values": [-0.3,-0.15,0,0.15,0.3,0.45,0.6,0.75,0.9], "format": ".1f", "labelBaseline": "alphabetic", "tickSize": 10, "labelPadding": 8, "labelExpr": "abs(round(datum.value*100))%30==0 ? datum.label : ''", "tickOpacity": {"condition": {"test": "abs(round(datum.value*100))%30==0", "value": 1}, "value": 0}, "gridWidth": {"condition": {"test": "abs(round(datum.value*100))%30==0", "value": 2.4}, "value": 1.4}}}, "y2": {"field": "hi"}}},
        {"mark": {"type": "tick", "size": 14.5, "thickness": 3, "opacity": 1}, "encoding": {"y": {"field": "lo", "type": "quantitative"}}},
        {"mark": {"type": "tick", "size": 14.5, "thickness": 3, "opacity": 1}, "encoding": {"y": {"field": "hi", "type": "quantitative"}}},
        {"transform": [{"filter": "datum.g != 'Stage 3'"}], "mark": {"type": "point", "filled": true, "opacity": 1, "size": 1024}, "encoding": {"y": {"field": "m", "type": "quantitative"}, "shape": {"field": "g", "type": "nominal", "scale": {"domain": ["No Genotyping","Stage 1","Stage 2","Stage 3"], "range": ["M-0.95,0L0.95,0M-0.375,0A0.375,0.375,0,1,1,0.375,0A0.375,0.375,0,1,1,-0.375,0Z","M-0.95,0L0.95,0M0,-0.43L0.47,0.38L-0.47,0.38Z","M-0.95,0L0.95,0M-0.36,-0.36L0.36,-0.36L0.36,0.36L-0.36,0.36Z","M-0.95,0L0.95,0"]}}}},
        {"transform": [{"filter": "datum.g == 'Stage 3'"}], "mark": {"type": "tick", "size": 19, "thickness": 2.5, "opacity": 1}, "encoding": {"y": {"field": "m", "type": "quantitative"}}}
      ]
    }
  ]
}
